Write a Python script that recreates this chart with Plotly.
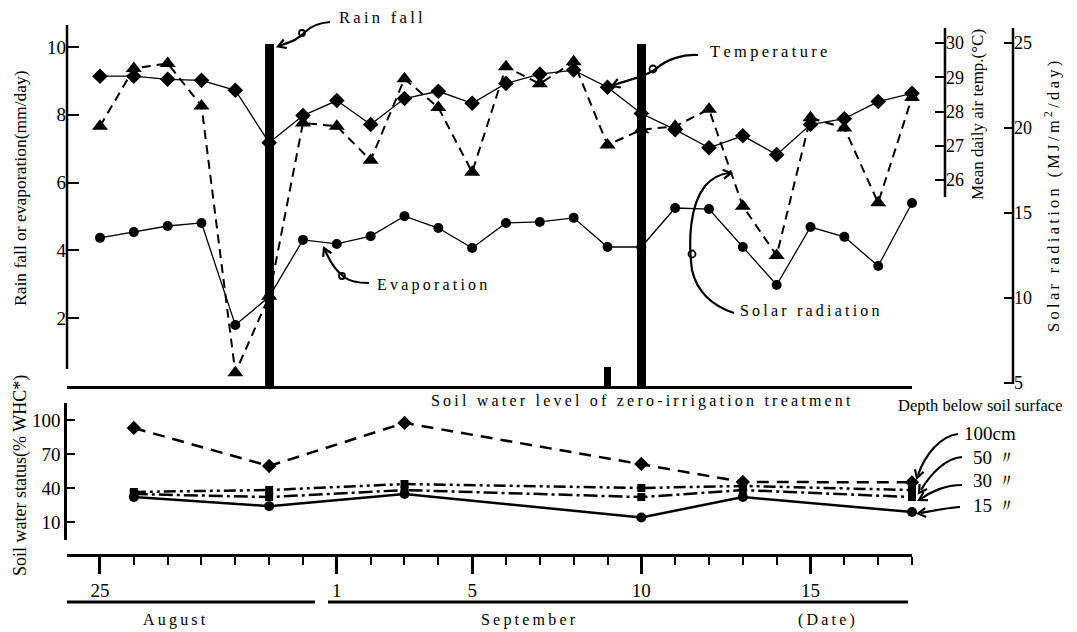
import math
import plotly.graph_objects as go

# ---------------- data ----------------
# day index: 0 = Aug 25 ... 24 = Sep 18
days = list(range(25))
rain = [0, 0, 0, 0, 0, 10.1, 0, 0, 0, 0, 0, 0, 0, 0, 0, 0.55, 10.1, 0, 0, 0, 0, 0, 0, 0, 0]
rain_width = [0.27] * 25
rain_width[15] = 0.22
evaporation = [4.37, 4.54, 4.72, 4.81, 1.80, 2.63, 4.31, 4.19, 4.42, 5.01, 4.66, 4.07, 4.81,
               4.84, 4.96, 4.10, 4.10, 5.25, 5.22, 4.10, 2.98, 4.69, 4.40, 3.54, 5.40]
temperature = [29.03, 29.03, 28.94, 28.91, 28.62, 27.09, 27.88, 28.32, 27.62, 28.38, 28.59, 28.24,
               28.82, 29.09, 29.21, 28.71, 27.94, 27.47, 26.94, 27.29, 26.74, 27.62, 27.79, 28.29, 28.53]
solar = [20.1, 23.5, 23.8, 21.3, 5.6, 10.1, 20.3, 20.1, 18.1, 22.9, 21.2, 17.4, 23.6,
         22.6, 23.9, 19.0, 19.9, 20.1, 21.1, 15.4, 12.5, 20.6, 20.0, 15.6, 21.8]

soil_days = [1, 5, 9, 16, 19, 24]
soil_100 = [93.0, 59.4, 97.4, 61.2, 45.3, 45.0]
soil_50 = [36.5, 38.2, 43.5, 40.0, 41.8, 38.2]
soil_30 = [34.7, 32.0, 38.2, 32.0, 38.2, 32.0]
soil_15 = [32.0, 24.0, 34.7, 14.0, 32.0, 18.8]

date_tickvals = [0, 7, 11, 16, 21]
date_ticktext = ["25", "1", "5", "10", "15"]
left_ticks = [2, 4, 6, 8, 10]
temp_ticks = [26, 27, 28, 29, 30]
solar_ticks = [5, 10, 15, 20, 25]
soil_ticks = [10, 40, 70, 100]

# ---------------- geometry helpers ----------------
W, H = 1077, 632
ML, MR, MT, MB = 67, 40, 25, 77
PW, PH = W - ML - MR, H - MT - MB


def px(x):
    return (x - ML) / PW


def py(y):
    return (H - MB - y) / PH


SERIF = "Liberation Serif"


def spaced(s):
    # letter-spaced typesetting of the original figure
    out = []
    for i, ch in enumerate(s):
        out.append(ch)
        if i < len(s) - 1:
            out.append("\u2009")
    return "".join(out)


fig = go.Figure()

# rain bars
fig.add_trace(go.Bar(x=days, y=rain, width=rain_width, marker=dict(color="black", line=dict(width=0)),
                     xaxis="x", yaxis="y", showlegend=False))
# evaporation
fig.add_trace(go.Scatter(x=days, y=evaporation, mode="lines+markers", xaxis="x", yaxis="y",
                         line=dict(color="black", width=1.3),
                         marker=dict(symbol="circle", size=10, color="black"), showlegend=False,
                         cliponaxis=False))
# temperature
fig.add_trace(go.Scatter(x=days, y=temperature, mode="lines+markers", xaxis="x", yaxis="y2",
                         line=dict(color="black", width=1.3),
                         marker=dict(symbol="diamond", size=12, color="black"), showlegend=False,
                         cliponaxis=False))
# solar radiation
fig.add_trace(go.Scatter(x=days, y=solar, mode="lines+markers", xaxis="x", yaxis="y3",
                         line=dict(color="black", width=2, dash="9px,6px"),
                         marker=dict(symbol="triangle-up", size=14, color="black"), showlegend=False,
                         cliponaxis=False))

# soil water
fig.add_trace(go.Scatter(x=soil_days, y=soil_100, mode="lines+markers", xaxis="x2", yaxis="y4",
                         line=dict(color="black", width=2.5, dash="12px,8px"),
                         marker=dict(symbol="diamond", size=11, color="black"), showlegend=False,
                         cliponaxis=False))
fig.add_trace(go.Scatter(x=soil_days, y=soil_50, mode="lines+markers", xaxis="x2", yaxis="y4",
                         line=dict(color="black", width=2.5, dash="12px,4px,3px,4px,3px,4px"),
                         marker=dict(symbol="square", size=8, color="black"), showlegend=False,
                         cliponaxis=False))
fig.add_trace(go.Scatter(x=soil_days, y=soil_30, mode="lines+markers", xaxis="x2", yaxis="y4",
                         line=dict(color="black", width=2.5, dash="14px,4px,3px,4px"),
                         marker=dict(symbol="square", size=8, color="black"), showlegend=False,
                         cliponaxis=False))
fig.add_trace(go.Scatter(x=soil_days, y=soil_15, mode="lines+markers", xaxis="x2", yaxis="y4",
                         line=dict(color="black", width=2.5),
                         marker=dict(symbol="circle", size=10, color="black"), showlegend=False,
                         cliponaxis=False))

xdom = [0, px(912)]
xrange = [-0.975, 24.0]
tickfont = dict(family=SERIF, size=19, color="black")

fig.update_layout(
    width=W, height=H, autosize=False,
    margin=dict(l=ML, r=MR, t=MT, b=MB, autoexpand=False),
    paper_bgcolor="white", plot_bgcolor="white",
    bargap=0,
    xaxis=dict(domain=xdom, range=xrange, anchor="y", showline=True, linewidth=3, linecolor="black",
               showticklabels=False, ticks="", showgrid=False, zeroline=False, automargin=False),
    yaxis=dict(domain=[py(386), 1], range=[0, 361 / 33.9], anchor="x", showline=False,
               tickvals=left_ticks, ticks="inside", ticklen=12, tickwidth=2, tickcolor="black",
               tickfont=tickfont, showgrid=False, zeroline=False, automargin=False),
    yaxis2=dict(overlaying="y", side="right", anchor="free", position=px(945),
                range=[30 - 343 / 34.25, 30 + 18 / 34.25], tickvals=temp_ticks, ticks="inside",
                ticklen=10, tickwidth=2, tickcolor="black", showline=False, showgrid=False,
                zeroline=False, tickfont=dict(family=SERIF, size=18, color="black"), automargin=False),
    yaxis3=dict(overlaying="y", side="right", anchor="free", position=px(1013),
                range=[5 - 3 / 17, 5 + 358 / 17], tickvals=solar_ticks, ticks="inside",
                ticklen=9, tickwidth=2, tickcolor="black", showline=False, showgrid=False,
                zeroline=False, tickfont=dict(family=SERIF, size=18, color="black"), automargin=False),
    xaxis2=dict(domain=xdom, range=xrange, anchor="free", position=0, showline=True, linewidth=3,
                linecolor="black", tickvals=date_tickvals, ticktext=date_ticktext, ticks="outside",
                ticklen=17, tickwidth=2.5, tickcolor="black", tickfont=tickfont, showgrid=False,
                zeroline=False, automargin=False,
                minor=dict(tickmode="linear", tick0=0, dtick=1, ticks="outside", ticklen=8,
                           tickwidth=2, tickcolor="black")),
    yaxis4=dict(domain=[py(540), py(403)], range=[10 - 18 / 1.1333, 100 + 17 / 1.1333], anchor="x2",
                showline=True, linewidth=2.5, linecolor="black", tickvals=soil_ticks, ticks="inside",
                ticklen=8, tickwidth=2, tickcolor="black", tickfont=tickfont, showgrid=False,
                zeroline=False, automargin=False),
)

shapes = []


def vline(x, y0, y1, w=2.5):
    shapes.append(dict(type="line", xref="paper", yref="paper", x0=px(x), x1=px(x), y0=py(y0), y1=py(y1),
                       line=dict(color="black", width=w)))


def hline(x0, x1, y, w=3):
    shapes.append(dict(type="line", xref="paper", yref="paper", x0=px(x0), x1=px(x1), y0=py(y), y1=py(y),
                       line=dict(color="black", width=w)))


# axis lines
vline(67, 25, 369)
vline(945, 28, 197)
vline(1013, 28, 384)
# month underlines
hline(67, 315, 602)
hline(328, 908, 602)


def curve(cmds, w=2.2):
    s = ""
    for c, pts in cmds:
        s += c + " " + " ".join(f"{px(x):.5f},{py(y):.5f}" for x, y in pts) + " "
    shapes.append(dict(type="path", xref="paper", yref="paper", path=s.strip(),
                       line=dict(color="black", width=w)))


def loop(cx, cy, r=3.0, w=1.8):
    shapes.append(dict(type="circle", xref="paper", yref="paper", x0=px(cx - r), x1=px(cx + r),
                       y0=py(cy + r), y1=py(cy - r), line=dict(color="black", width=w)))


def head(tip, frm, L=9, ang=30, w=2.2):
    tx, ty = tip
    dx, dy = frm[0] - tx, frm[1] - ty
    n = math.hypot(dx, dy)
    dx, dy = dx / n, dy / n
    pts = []
    for s in (1, -1):
        a = math.radians(ang * s)
        rx = dx * math.cos(a) - dy * math.sin(a)
        ry = dx * math.sin(a) + dy * math.cos(a)
        pts.append((tx + L * rx, ty + L * ry))
    curve([("M", [pts[0]]), ("L", [tip]), ("L", [pts[1]])], w=w)


# Rain fall arrow
curve([("M", [(330, 22)]), ("C", [(318, 23), (310, 27), (305, 32)]), ("C", [(298, 40), (290, 42), (279, 46)])])
loop(302, 33)
head((278, 46.5), (290, 42))
# Temperature arrow
curve([("M", [(698, 55)]), ("C", [(682, 54), (666, 60), (657, 68)]), ("C", [(646, 77), (630, 79), (614, 85)])])
loop(653, 69, 3.5)
head((612, 86), (628, 80))
# Evaporation arrow
curve([("M", [(369, 283)]), ("C", [(356, 283), (349, 281), (344, 277)]), ("C", [(336, 271), (330, 262), (325, 250)])])
loop(342, 276)
head((324, 248), (329, 259))
# Solar radiation arrow
curve([("M", [(734, 313)]), ("C", [(713, 306), (697, 292), (692, 270)]),
       ("C", [(688, 240), (690, 205), (705, 186)]), ("C", [(712, 178), (720, 174), (729, 173)])])
loop(692, 254, 3.5)
head((731, 173), (718, 175))
# Depth arrows
curve([("M", [(958, 434)]), ("C", [(940, 436), (925, 455), (918, 475)])])
head((917, 478), (920, 468))
curve([("M", [(962, 457)]), ("C", [(945, 458), (930, 475), (921, 490)])])
head((919, 493), (925, 484))
curve([("M", [(962, 485)]), ("C", [(945, 485), (930, 492), (921, 499)])])
head((919, 500), (928, 495))
curve([("M", [(960, 507)]), ("C", [(945, 508), (932, 511), (921, 513)])])
head((918, 513.5), (930, 512))

fig.update_layout(shapes=shapes)

ann = []


def text(x, y, s, size, family=SERIF, xanchor="center", angle=0):
    ann.append(dict(x=px(x), y=py(y), xref="paper", yref="paper", text=s, showarrow=False,
                    xanchor=xanchor, yanchor="middle", textangle=angle,
                    font=dict(family=family, size=size, color="black")))


text(337, 18, spaced("Rain fall"), 16.5, xanchor="left")
text(708, 52, spaced("Temperature"), 16.5, xanchor="left")
text(375, 285, spaced("Evaporation"), 16, xanchor="left")
text(738, 310, spaced("Solar radiation"), 16, xanchor="left")
text(641, 401, spaced("Soil water level of zero-irrigation treatment"), 16)
text(980, 405, "Depth below soil surface", 16.5)
text(962, 434, "100cm", 19, xanchor="left")
text(971, 457, "50 〃", 19, xanchor="left")
text(971, 480, "30 〃", 19, xanchor="left")
text(971, 505, "15 〃", 19, xanchor="left")
text(174, 620, spaced("August"), 16)
text(528, 620, spaced("September"), 16)
text(826, 620, spaced("(Date)"), 16)
text(20, 188, "Rain fall or evaporation(mm/day)", 17.5, angle=-90)
text(20, 476, "Soil water status(% WHC*)", 18, angle=-90)
text(978, 115, "Mean daily air temp.(°C)", 17, angle=-90)
text(1052, 197, spaced("Solar radiation") + "\u2009 \u2009" + spaced("(MJ/m") + "\u2009<sup>2</sup>\u2009"
     + spaced("/day)"), 16.5, angle=-90)

fig.update_layout(annotations=ann)

fig.write_html("out.html", config={"displayModeBar": False},
               post_script="document.body.style.margin='0';document.body.style.padding='0';")
